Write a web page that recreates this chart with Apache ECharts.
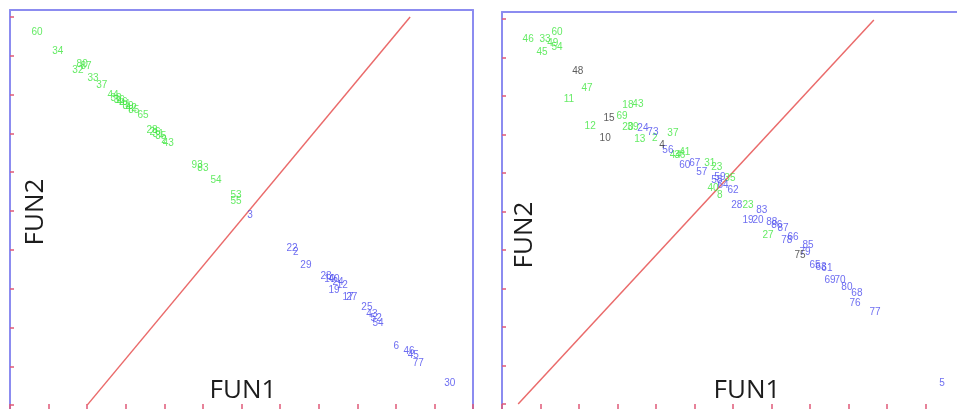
<!DOCTYPE html>
<html><head><meta charset="utf-8">
<script src="https://cdn.jsdelivr.net/npm/echarts@6/dist/echarts.min.js"></script>
<style>html,body{margin:0;padding:0;background:#fff}#c{width:957px;height:409px}</style>
</head><body><div id="c"></div>
<script>
// tick positions (function score units)
const xTicks = [-6,-5,-4,-3,-2,-1,0,1,2,3,4,5,6];
const yTicks = [-5,-4,-3,-2,-1,0,1,2,3,4,5];

// Left panel: [FUN1, FUN2, case label]
const leftGreen = [
  [-5.30,4.61,'60'],[-4.76,4.12,'34'],[-4.24,3.63,'32'],[-4.13,3.79,'80'],[-4.03,3.74,'87'],
  [-3.85,3.43,'33'],[-3.62,3.25,'37'],[-3.33,2.99,'44'],[-3.25,2.91,'38'],[-3.17,2.86,'36'],
  [-3.10,2.81,'46'],[-3.02,2.76,'41'],[-2.94,2.71,'39'],[-2.86,2.65,'42'],[-2.79,2.60,'85'],
  [-2.55,2.47,'65'],[-2.32,2.09,'28'],[-2.24,2.04,'26'],[-2.16,1.98,'31'],[-2.09,1.93,'35'],
  [-2.01,1.83,'2'],[-1.90,1.75,'43'],[-1.15,1.19,'93'],[-1.00,1.11,'83'],[-0.66,0.80,'54'],
  [-0.14,0.41,'53'],[-0.14,0.26,'55']
];
const leftBlue = [
  [0.22,-0.10,'3'],[1.31,-0.95,'22'],[1.41,-1.06,'2'],[1.67,-1.39,'29'],[2.19,-1.68,'28'],
  [2.29,-1.75,'10'],[2.40,-1.75,'40'],[2.50,-1.83,'24'],[2.61,-1.91,'12'],[2.40,-2.04,'19'],
  [2.76,-2.22,'17'],[2.86,-2.22,'27'],[3.25,-2.47,'25'],[3.38,-2.65,'43'],[3.49,-2.76,'52'],
  [3.54,-2.89,'54'],[4.01,-3.48,'6'],[4.34,-3.61,'46'],[4.45,-3.71,'45'],[4.58,-3.92,'77'],
  [5.40,-4.43,'30']
];
const leftDiagonal = [[-4.00,-5.00],[4.37,5.00]];

// Right panel
const rightGreen = [
  [-5.32,4.48,'46'],[-4.88,4.48,'33'],[-4.57,4.66,'60'],[-4.57,4.27,'54'],[-4.96,4.14,'45'],
  [-4.68,4.38,'49'],[-3.79,3.21,'47'],[-4.26,2.92,'11'],[-2.73,2.77,'18'],[-2.47,2.79,'43'],
  [-2.88,2.48,'69'],[-3.71,2.22,'12'],[-2.73,2.19,'20'],[-2.60,2.19,'39'],[-2.42,1.88,'13'],
  [-2.03,1.91,'2'],[-1.56,2.04,'37'],[-1.38,1.47,'36'],[-1.25,1.55,'41'],[-1.50,1.45,'44'],
  [-0.42,1.16,'23'],[-0.60,1.26,'31'],[-0.08,0.87,'35'],[-0.52,0.61,'40'],[-0.34,0.43,'8'],
  [0.39,0.17,'23'],[0.91,-0.61,'27']
];
const rightDark = [
  [-4.03,3.65,'48'],[-3.22,2.43,'15'],[-3.32,1.91,'10'],[-1.84,1.73,'4'],[1.74,-1.13,'75']
];
const rightBlue = [
  [-2.34,2.17,'24'],[-2.08,2.06,'73'],[-1.69,1.60,'56'],[-1.25,1.21,'60'],[-0.99,1.26,'67'],
  [-0.81,1.03,'57'],[-0.42,0.82,'58'],[-0.34,0.90,'59'],[-0.26,0.69,'64'],[0.00,0.56,'62'],
  [0.10,0.17,'28'],[0.75,0.04,'83'],[0.39,-0.22,'19'],[0.65,-0.22,'20'],[1.01,-0.27,'88'],
  [1.14,-0.35,'86'],[1.30,-0.43,'87'],[1.40,-0.74,'78'],[1.56,-0.66,'66'],[1.95,-0.87,'85'],
  [1.87,-1.05,'79'],[2.13,-1.39,'65'],[2.29,-1.44,'63'],[2.44,-1.47,'61'],[2.52,-1.78,'69'],
  [2.78,-1.78,'70'],[2.96,-1.96,'80'],[3.22,-2.12,'68'],[3.17,-2.38,'76'],[3.69,-2.61,'77'],
  [5.43,-4.45,'5']
];
const rightDiagonal = [[-5.58,-5.00],[3.66,4.97]];

const GREEN = '#3fe63f', BLUE = '#4848ee', DARK = '#333333', RED = '#ea6b6b';
const BORDER = '#8c8cf0', TICK = '#e05a78';

function labels(data, color, gi) {
  return {
    type: 'scatter', xAxisIndex: gi * 2, yAxisIndex: gi * 2, silent: true, z: 3,
    symbol: 'circle', symbolSize: 1, itemStyle: { color: 'rgba(0,0,0,0)' },
    data: data.map(d => ({ value: [d[0], d[1]], name: d[2] })),
    label: { show: true, position: 'inside', formatter: '{b}', color: color,
             fontSize: 10, fontFamily: 'Liberation Sans' }
  };
}
function diag(data, gi) {
  return { type: 'line', xAxisIndex: gi * 2, yAxisIndex: gi * 2, data: data, symbol: 'none',
           silent: true, z: 2, lineStyle: { color: RED, width: 1.5 } };
}
// tick-only bottom axis
function xAx(gi, min, max) {
  return { type: 'value', gridIndex: gi, min: min, max: max, position: 'bottom',
    axisLine: { show: false, onZero: false },
    splitLine: { show: false }, axisLabel: { show: false },
    axisTick: { show: true, inside: true, length: 5, customValues: xTicks,
                lineStyle: { color: TICK, width: 1.5 } } };
}
// border-only top / right axes
function borderAx(gi, min, max, pos, visible) {
  return { type: 'value', gridIndex: gi, min: min, max: max, position: pos,
    axisLine: { show: visible, onZero: false, lineStyle: { color: BORDER, width: 2 } },
    splitLine: { show: false }, axisLabel: { show: false }, axisTick: { show: false } };
}
function yAx(gi, min, max) {
  return { type: 'value', gridIndex: gi, min: min, max: max, position: 'left',
    axisLine: { show: true, onZero: false, lineStyle: { color: BORDER, width: 2 } },
    splitLine: { show: false }, axisLabel: { show: false },
    axisTick: { show: true, inside: true, length: 4, customValues: yTicks,
                lineStyle: { color: TICK, width: 1.5 } } };
}
const titleFont = '26px "Open Sans"';
const chart = echarts.init(document.getElementById('c'));
chart.setOption({
  animation: false,
  backgroundColor: '#ffffff',
  grid: [
    { left: 10, top: 10, width: 463, height: 399 },
    { left: 502, top: 12, width: 455, height: 397 }
  ],
  xAxis: [xAx(0, -6, 6), borderAx(0, -6, 6, 'top', true), xAx(1, -6, 5.82), borderAx(1, -6, 5.82, 'top', true)],
  yAxis: [yAx(0, -5.10, 5.18), borderAx(0, -5.10, 5.18, 'right', true), yAx(1, -5.13, 5.18), borderAx(1, -5.13, 5.18, 'right', false)],
  series: [
    diag(leftDiagonal, 0), labels(leftGreen, GREEN, 0), labels(leftBlue, BLUE, 0),
    diag(rightDiagonal, 1), labels(rightGreen, GREEN, 1), labels(rightBlue, BLUE, 1), labels(rightDark, DARK, 1)
  ],
  graphic: [
    { type: 'text', x: 243, y: 391, z: 10, style: { text: 'FUN1', font: titleFont, fill: '#1c1c1c', textAlign: 'center', textVerticalAlign: 'middle' } },
    { type: 'text', x: 747, y: 391, z: 10, style: { text: 'FUN1', font: titleFont, fill: '#1c1c1c', textAlign: 'center', textVerticalAlign: 'middle' } },
    { type: 'text', x: 36, y: 212, rotation: Math.PI / 2, z: 10, style: { text: 'FUN2', font: titleFont, fill: '#1c1c1c', textAlign: 'center', textVerticalAlign: 'middle' } },
    { type: 'text', x: 525, y: 235, rotation: Math.PI / 2, z: 10, style: { text: 'FUN2', font: titleFont, fill: '#1c1c1c', textAlign: 'center', textVerticalAlign: 'middle' } }
  ]
});
</script>
</body></html>
